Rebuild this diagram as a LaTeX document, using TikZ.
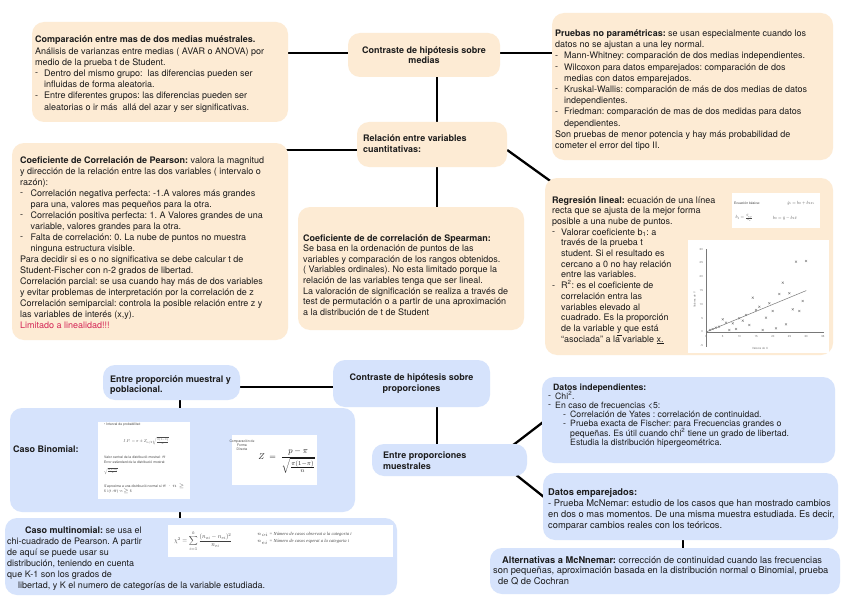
\documentclass[tikz,border=0pt]{standalone}
\usepackage{fontspec}
\usepackage{graphicx}
\setmainfont{TeX Gyre Heros}
\newfontfamily\tinyserif{Liberation Serif}
\usetikzlibrary{fit,calc,backgrounds}
\definecolor{peach}{RGB}{253,235,212}
\definecolor{lblue}{RGB}{214,227,252}
\definecolor{ink}{RGB}{28,28,28}
\definecolor{pinkred}{RGB}{212,38,86}
\definecolor{plotgray}{RGB}{120,120,120}
\newcommand{\myitm}[1][9pt]{\makebox[#1][l]{\raisebox{0.6pt}{-}}}
\newcommand{\myind}[1][9pt]{\hspace*{#1}}
\newcommand{\lns}[1]{\begin{tabular}[t]{@{}l@{}}#1\end{tabular}}
\frenchspacing
\begin{document}
\frenchspacing
\begin{tikzpicture}[x=1pt,y=-1pt,
  pbox/.style={fill=peach,rounded corners=12pt,inner sep=0pt},
  bbox/.style={fill=lblue,rounded corners=12pt,inner sep=0pt},
  conn/.style={line width=2.3pt,draw=black},
  txt/.style={anchor=base west,inner sep=0pt,text=ink,font=\fontsize{9}{11.2}\selectfont},
  ctxt/.style={inner sep=0pt,align=center,text=ink,font=\bfseries\fontsize{9}{10.4}\selectfont},
  img/.style={fill=white,inner sep=0pt},
  tiny/.style={inner sep=0pt,text=ink!80,font=\fontsize{3.4}{4.2}\selectfont},
  ptick/.style={inner sep=0pt,text=plotgray,font=\fontsize{2.8}{3}\selectfont},
  eqn/.style={inner sep=0pt,scale=0.45,text=ink!80},
]
\useasboundingbox (0,0) rectangle (848,599);

% ---------- boxes ----------
\node[pbox, fit={(32,22)(288,122)}] (A) {};
\node[pbox, fit={(348,33)(500,77)}] (medias) {};
\node[pbox, fit={(552,13)(833,160)}] (B) {};
\node[pbox, fit={(357,122)(507,167)}] (relacion) {};
\node[pbox, fit={(12,143)(288,340)}] (pearson) {};
\node[pbox, fit={(298,207)(524,330)}] (spearman) {};
\node[pbox, fit={(545,178)(833,355)}] (regresion) {};

\node[bbox, fit={(103,365)(240,400)}] (mp) {};
\node[bbox, fit={(333,360)(490,407)}] (prop) {};
\node[bbox, fit={(10,408)(355,512)}] (binom) {};
\node[bbox, fit={(5,518)(397,595)}] (multi) {};
\node[bbox, fit={(372,444)(527,476)}] (muest) {};
\node[bbox, fit={(542,377)(835,463)}] (indep) {};
\node[bbox, fit={(543,473)(838,540)}] (empar) {};
\node[bbox, fit={(490,548)(840,594)}] (alter) {};

% ---------- connectors (behind boxes) ----------
\coordinate (sx) at (437,0);
\coordinate (bx) at (180,0);
\coordinate (ax) at (683,0);
\coordinate (ym) at (0,53);
\coordinate (yr) at (0,150);
\coordinate (yp) at (0,387);
\begin{scope}[on background layer]
  \fill[white] (0,0) rectangle (848,599);
  \draw[conn] (A.center |- ym) -- (B.center |- ym);
  \draw[conn] (medias.center -| sx) -- (relacion.center -| sx);
  \draw[conn] (relacion.center -| sx) -- (spearman.center -| sx);
  \draw[conn] (pearson.center |- yr) -- (relacion.center |- yr);
  \draw[conn] (relacion.east |- yr) -- ($(regresion.north west)+(8,5)$);
  \draw[conn] (mp.center |- yp) -- (prop.center |- yp);
  \draw[conn] (mp.center -| bx) -- (multi.center -| bx);
  \draw[conn] (prop.center -| sx) -- (muest.center -| sx);
  \draw[conn] ($(muest.north east)+(-15,2)$) -- ($(indep.west)+(4,0)$);
  \draw[conn] ($(muest.south east)+(-12,-2)$) -- ($(empar.west)+(3,-8)$);
  \draw[conn] (empar.center -| ax) -- (alter.center -| ax);
\end{scope}

% ---------- texts: upper half ----------
\node[txt] (tA) at (35,43) {\lns{\textbf{Comparación entre mas de dos medias muéstrales.}\\
Análisis de varianzas entre medias ( AVAR o ANOVA) por\\
medio de la prueba t de Student.\\
\myitm Dentro del mismo grupo:~ las diferencias pueden ser\\
\myind influidas de forma aleatoria.\\
\myitm Entre diferentes grupos: las diferencias pueden ser\\
\myind aleatorias o ir más~ allá del azar y ser significativas.}};

\node[ctxt] (tmedias) at (medias.center) {Contraste de hipótesis sobre\\medias};

\node[txt] (tB) at (555,36.5) {\lns{\textbf{Pruebas no paramétricas:} se usan especialmente cuando los\\
datos no se ajustan a una ley normal.\\
\myitm Mann-Whitney: comparación de dos medias independientes.\\
\myitm Wilcoxon para datos emparejados: comparación de dos\\
\myind medias con datos emparejados.\\
\myitm Kruskal-Wallis: comparación de más de dos medias de datos\\
\myind independientes.\\
\myitm Friedman: comparación de mas de dos medidas para datos\\
\myind dependientes.\\
Son pruebas de menor potencia y hay más probabilidad de\\
cometer el error del tipo II.}};

\node[txt, font=\bfseries\fontsize{9}{11.5}\selectfont] (trel) at (363,141) {\lns{Relación entre variables\\cuantitativas:}};

\node[txt, font=\fontsize{9}{11}\selectfont] (tpear) at (20,163) {\lns{\textbf{Coeficiente de Correlación de Pearson:} valora la magnitud\\
y dirección de la relación entre las dos variables ( intervalo o\\
razón):\\
\myitm[8pt] Correlación negativa perfecta: -1.A valores más grandes\\
\myind[8pt] para una, valores mas pequeños para la otra.\\
\myitm[8pt] Correlación positiva perfecta: 1. A Valores grandes de una\\
\myind[8pt] variable, valores grandes para la otra.\\
\myitm[8pt] Falta de correlación: 0. La nube de puntos no muestra\\
\myind[8pt] ninguna estructura visible.\\
Para decidir si es o no significativa se debe calcular t de\\
Student-Fischer con n-2 grados de libertad.\\
Correlación parcial: se usa cuando hay más de dos variables\\
y evitar problemas de interpretación por la correlación de z\\
Correlación semiparcial: controla la posible relación entre z y\\
las variables de interés (x,y).\\
\textcolor{pinkred}{Limitado a linealidad!!!}}};

\node[txt, font=\fontsize{9}{10.6}\selectfont] (tspear) at (303,241) {\lns{\textbf{Coeficiente de de correlación de Spearman:}\\
Se basa en la ordenación de puntos de las\\
variables y comparación de los rangos obtenidos.\\
( Variables ordinales). No esta limitado porque la\\
relación de las variables tenga que ser lineal.\\
La valoración de significación se realiza a través de\\
test de permutación o a partir de una aproximación\\
a la distribución de t de Student}};

\node[txt, font=\fontsize{9}{10.7}\selectfont] (treg) at (552,203) {\lns{\textbf{Regresión lineal:} ecuación de una línea\\
recta que se ajusta de la mejor forma\\
posible a una nube de puntos.\\
\myitm \smash{Valorar coeficiente b\textsubscript{1}: a}\\
\myind través de la prueba t\\
\myind student. Si el resultado es\\
\myind cercano a 0 no hay relación\\
\myind entre las variables.\\
\myitm \smash{R\textsuperscript{2}: es el coeficiente de}\\
\myind correlación entra las\\
\myind variables elevado al\\
\myind cuadrado. Es la proporción\\
\myind \smash{de la variable \underline{y} que está}\\
\myind \smash{``asociada'' a la variable \underline{x.}}}};

% regression formula image
\node[img, fit={(732,193)(820,228)}] (eqbox) {};
\node[tiny] (eq1) at (747,203) {Ecuación básica:};
\node[eqn] (eq2) at (801,203) {$\hat{y}_i = b_0 + b_1 x_i$};
\node[eqn] (eq3) at (744,218) {$b_1 = \frac{S_{xy}}{S_x^2}$};
\node[eqn] (eq4) at (785,218) {$b_0 = \bar{y} - b_1\bar{x}$};

% scatter plot image
\node[img, fit={(688,240)(829,353)}] (plot) {};
\draw[plotgray, line width=0.4pt] (706,249) -- (706,347);
\draw[plotgray, line width=0.4pt] (706,332) -- (824,332);
\foreach \v/\yy in {-5/345.8,0/332,5/318.2,10/304.4,15/290.6,20/276.8,25/263,30/249.2}
  \node[ptick, anchor=east] (yl\v) at (703,\yy) {\v};
\foreach \v/\xx in {0/706,5/722.7,10/739.4,15/756.1,20/772.8,25/789.5,30/806.2,35/822.9}
  \node[ptick, anchor=north] (xl\v) at (\xx,335) {\v};
\node[ptick] (xtit) at (760,348) {Valores de X};
\node[ptick, rotate=90] (ytit) at (694.5,300) {Valores de Y};
\draw[plotgray, line width=0.5pt] (706,332) -- (806.2,290.6);
\foreach \px/\py in {710/330,712.7/329,715.7/327.7,719/326.7,722.7/319.3,726/322.7,729.3/330,732.7/323.3,736/329,739.3/318.3,742.7/320.7,746/315,749.3/325,752.7/297.7,756/310,759.3/306.7,762.7/330,766/317.7,769.3/303.3,772.7/311,776/328.3,779.3/294,782.7/282.7,786/324.3,789.3/293.3,792.7/309.3,796/261.7,799.3/311,802.7/301,806/261}
  \draw[plotgray, line width=0.35pt] (\px-1,\py-1) -- (\px+1,\py+1) (\px-1,\py+1) -- (\px+1,\py-1);

% ---------- texts: lower half ----------
\node[txt, font=\bfseries\fontsize{9}{10.5}\selectfont] (tmp) at (110,382) {\lns{Entre proporción muestral y\\poblacional.}};
\node[ctxt] (tprop) at (prop.center) {Contraste de hipótesis sobre\\proporciones};
\node[txt, font=\bfseries\fontsize{9}{11}\selectfont] (tbin) at (13,452) {Caso Binomial:};

% binomial image 1
\node[img, fit={(98,422)(190,499)}] (bimg1) {};
\node[tiny, anchor=west] (b1a) at (104,425) {• Interval de probabilitat:};
\node[eqn, scale=0.93] (b1b) at (146,441) {$I.P. = \pi \pm Z_{\alpha/2}\sqrt{\frac{\pi(1-\pi)}{n}}$};
\node[tiny, anchor=west] (b1c) at (104,457) {Valor central de la distribució mostral: $\pi$};
\node[tiny, anchor=west] (b1d) at (104,462.5) {Error estàndard de la distribució mostral:};
\node[eqn, scale=0.78, anchor=west] (b1e) at (104,471) {$\sqrt{\frac{\pi(1-\pi)}{n}}$};
\node[tiny, anchor=west] (b1f) at (104,486) {S'aproxima a una distribució normal si $\pi\cdot n\geq$};
\node[tiny, anchor=west] (b1g) at (104,491) {5 i (1-$\pi$)$\cdot$n $\geq$ 5};

% binomial image 2
\node[img, fit={(232,435)(317,485)}] (bimg2) {};
\node[tiny, align=center] (b2a) at (242,445) {Comparación de\\Forma\\Directa};
\node[inner sep=0pt, scale=0.85, text=ink] (b2b) at (287,461) {$\displaystyle Z\;=\;\frac{p-\pi}{\sqrt{\frac{\pi(1-\pi)}{n}}}$};

\node[txt, font=\fontsize{9}{11}\selectfont] (tmulti) at (7,533) {\lns{\hspace*{18pt}\textbf{Caso multinomial:} se usa el\\
chi-cuadrado de Pearson. A partir\\
de aquí se puede usar su\\
distribución, teniendo en cuenta\\
que K-1 son los grados de}};
\node[txt, font=\fontsize{9}{11}\selectfont] (tmulti2) at (18,588) {libertad, y K el numero de categorías de la variable estudiada.};

% multinomial image
\node[img, fit={(168,525)(393,557)}] (mimg) {};
\node[inner sep=0pt, scale=0.62, text=ink!85] (m1) at (203,541) {$\displaystyle \chi^2=\sum_{i=1}^{k}\frac{(n_{oi}-n_{ei})^2}{n_{ei}}$};
\node[inner sep=0pt, anchor=west, align=left, text=ink!80, font=\tinyserif\itshape\fontsize{4.6}{7.5}\selectfont] (m2) at (257,538) {$n_{oi}$ = Número de casos observat a la categoria i\\$n_{ei}$ = Número de casos esperat a la categoria i};

\node[txt, font=\bfseries\fontsize{9}{11}\selectfont] (tmuest) at (383,458) {\lns{Entre proporciones\\muestrales}};

\node[txt, font=\fontsize{8.7}{9.2}\selectfont] (tindep) at (548,390) {\lns{\hspace*{5pt}\textbf{Datos independientes:}\\
\myitm[7pt]\smash{Chi\textsuperscript{2}.}\\
\myitm[7pt]En caso de frecuencias <5:\\
\hspace*{15pt}\myitm[7pt]Correlación de Yates : correlación de continuidad.\\
\hspace*{15pt}\myitm[7pt]Prueba exacta de Fischer: para Frecuencias grandes o\\
\hspace*{22pt}\smash{pequeñas. Es útil cuando chi\textsuperscript{2} tiene un grado de libertad.}\\
\hspace*{22pt}Estudia la distribución hipergeométrica.}};

\node[txt, font=\fontsize{9.3}{11}\selectfont] (tempar) at (548,495) {\lns{\textbf{Datos emparejados:}\\
- Prueba McNemar: estudio de los casos que han mostrado cambios\\
en dos o mas momentos. De una misma muestra estudiada. Es decir,\\
comparar cambios reales con los teóricos.}};

\node[txt, font=\fontsize{9.3}{10.6}\selectfont] (talter) at (493,563) {\lns{\hspace*{9pt}\textbf{Alternativas a McNnemar:} corrección de continuidad cuando las frecuencias\\
son pequeñas, aproximación basada en la distribución normal o Binomial, prueba\\
\hspace*{5pt}de Q de Cochran}};

\end{tikzpicture}
\end{document}
